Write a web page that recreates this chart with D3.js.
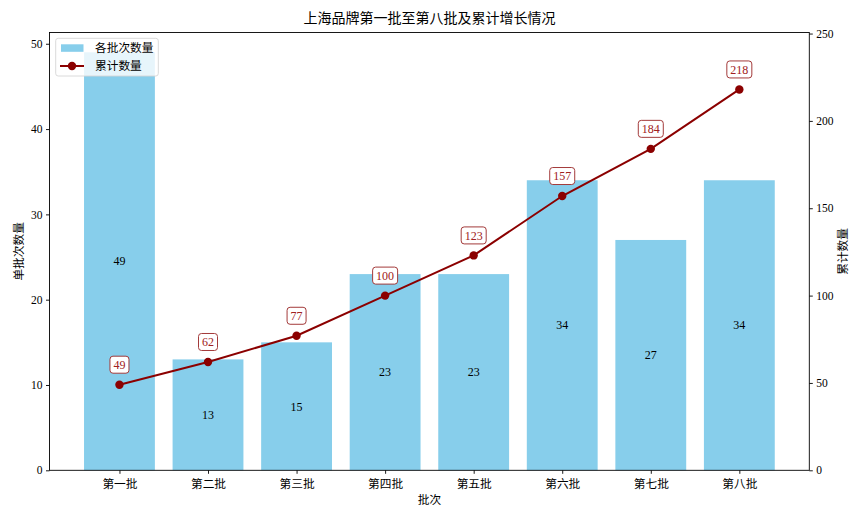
<!DOCTYPE html>
<html><head><meta charset="utf-8">
<script src="https://cdn.jsdelivr.net/npm/d3@7"></script>
<style>body{margin:0;background:#fff}svg{display:block}</style>
</head><body>
<script>
const categories = ["第一批","第二批","第三批","第四批","第五批","第六批","第七批","第八批"];
const batchValues = [49,13,15,23,23,34,27,34];
const cumulativeValues = [49,62,77,100,123,157,184,218];
const leftTicks = [0,10,20,30,40,50];
const rightTicks = [0,50,100,150,200,250];

const W=865,H=519;
const FONT = "'Liberation Serif','DejaVu Serif','Noto Sans CJK SC',serif";
const m={left:49.5,right:809.3,top:32.5,bottom:470.3};
const svg=d3.select("body").append("svg").attr("width",W).attr("height",H)
  .style("font-family",FONT);

const x=d3.scaleLinear().domain([-0.79,7.79]).range([m.left,m.right]);
const yL=d3.scaleLinear().domain([0,51.32]).range([m.bottom,m.top]);
const yR=d3.scaleLinear().domain([0,250.6]).range([m.bottom,m.top]);
const bw = (x(1)-x(0))*0.8;

// bars
svg.append("g").selectAll("rect").data(batchValues).join("rect")
  .attr("x",(d,i)=>x(i)-bw/2).attr("width",bw)
  .attr("y",d=>yL(Math.min(d,51.32))).attr("height",d=>yL(0)-yL(Math.min(d,51.32)))
  .attr("fill","#87CEEB");
svg.append("g").selectAll("text").data(batchValues).join("text")
  .attr("x",(d,i)=>x(i)).attr("y",d=>yL(d/2)).attr("dy","0.35em")
  .attr("text-anchor","middle").attr("font-size",12).attr("fill","#000").text(d=>d);

// line
const line=d3.line().x((d,i)=>x(i)).y(d=>yR(d));
svg.append("path").datum(cumulativeValues).attr("d",line)
  .attr("fill","none").attr("stroke","#8B0000").attr("stroke-width",2);
svg.append("g").selectAll("circle").data(cumulativeValues).join("circle")
  .attr("cx",(d,i)=>x(i)).attr("cy",d=>yR(d)).attr("r",4.2).attr("fill","#8B0000");

// annotations
const ann=svg.append("g").selectAll("g").data(cumulativeValues).join("g")
  .attr("transform",(d,i)=>`translate(${x(i)},${yR(d)-20})`);
ann.append("text").attr("text-anchor","middle").attr("dy","0.35em")
  .attr("font-size",12).attr("fill","#a02020").text(d=>d);
ann.each(function(){
  const g=d3.select(this), bb=g.select("text").node().getBBox();
  g.insert("rect","text").attr("x",bb.x-3.5).attr("y",-8.5).attr("width",bb.width+7).attr("height",17)
   .attr("rx",3).attr("fill","#fff").attr("stroke","#a33a3a").attr("stroke-width",1);
});

// axes
const axL=svg.append("g").attr("transform",`translate(${m.left},0)`)
  .call(d3.axisLeft(yL).tickValues(leftTicks).tickSize(3.5).tickPadding(3.5));
const axR=svg.append("g").attr("transform",`translate(${m.right},0)`)
  .call(d3.axisRight(yR).tickValues(rightTicks).tickSize(3.5).tickPadding(3.5));
const axB=svg.append("g").attr("transform",`translate(0,${m.bottom})`)
  .call(d3.axisBottom(x).tickValues(d3.range(categories.length)).tickFormat(i=>categories[i]).tickSize(3.5).tickPadding(6));
[axL,axR,axB].forEach(a=>{
  a.select(".domain").remove();
  a.selectAll("text").attr("font-size",11.5).attr("fill","#000").style("font-family",FONT);
  a.selectAll("line").attr("stroke","#000").attr("stroke-width",0.9);
});
axB.selectAll("text").attr("font-size",11.7);
svg.append("rect").attr("x",m.left).attr("y",m.top).attr("width",m.right-m.left).attr("height",m.bottom-m.top)
  .attr("fill","none").attr("stroke","#000").attr("stroke-width",0.9);

// labels
svg.append("text").attr("x",(m.left+m.right)/2).attr("y",23).attr("text-anchor","middle")
  .attr("font-size",14).text("上海品牌第一批至第八批及累计增长情况");
svg.append("text").attr("x",(m.left+m.right)/2).attr("y",504).attr("text-anchor","middle")
  .attr("font-size",11.7).text("批次");
svg.append("text").attr("transform",`translate(23,${(m.top+m.bottom)/2}) rotate(-90)`).attr("text-anchor","middle")
  .attr("font-size",11.7).text("单批次数量");
svg.append("text").attr("transform",`translate(847,${(m.top+m.bottom)/2}) rotate(-90)`).attr("text-anchor","middle")
  .attr("font-size",11.7).text("累计数量");

// legend
const lg=svg.append("g");
lg.append("rect").attr("x",55.7).attr("y",38.3).attr("width",102.6).attr("height",37.7).attr("rx",2.5)
  .attr("fill","#fff").attr("fill-opacity",0.8).attr("stroke","#d6d6d6").attr("stroke-width",0.9);
lg.append("rect").attr("x",61).attr("y",44.3).attr("width",22.5).attr("height",7.5).attr("fill","#87CEEB");
lg.append("text").attr("x",95).attr("y",48).attr("dy","0.35em").attr("font-size",11.7).text("各批次数量");
lg.append("line").attr("x1",60).attr("x2",84).attr("y1",66).attr("y2",66).attr("stroke","#8B0000").attr("stroke-width",2);
lg.append("circle").attr("cx",72).attr("cy",66).attr("r",4.2).attr("fill","#8B0000");
lg.append("text").attr("x",95).attr("y",66).attr("dy","0.35em").attr("font-size",11.7).text("累计数量");
</script>
</body></html>
